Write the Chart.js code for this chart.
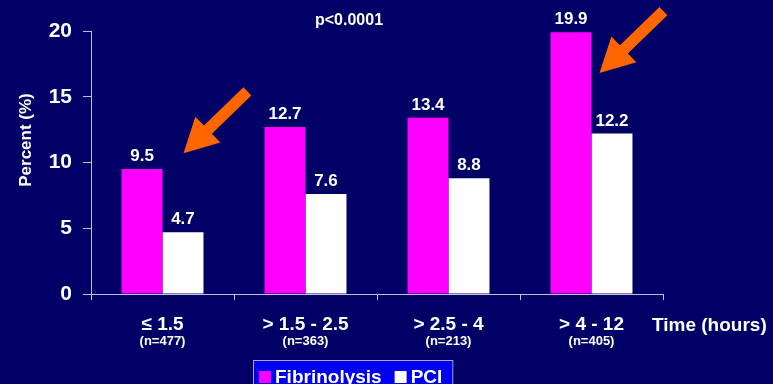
<!DOCTYPE html>
<html>
<head>
<meta charset="utf-8">
<title>Mortality by time to treatment</title>
<script src="https://cdn.jsdelivr.net/npm/chart.js@4.4.1/dist/chart.umd.min.js"></script>
<style>
  html, body { margin: 0; padding: 0; background: #000066; overflow: hidden; }
  canvas { display: block; }
</style>
</head>
<body>
<canvas id="chart" width="773" height="384"></canvas>
<script>
// Time-to-treatment windows and their patient counts
const timeWindows = ['≤ 1.5', '> 1.5 - 2.5', '> 2.5 - 4', '> 4 - 12'];
const patientCounts = ['(n=477)', '(n=363)', '(n=213)', '(n=405)'];

// Percent values per window
const fibrinolysis = [9.5, 12.7, 13.4, 19.9];
const pci = [4.7, 7.6, 8.8, 12.2];

const FONT = 'Arial, "Liberation Sans", sans-serif';
const NAVY = '#000066';
const AXIS = '#C0C0D8';
const ORANGE = '#FF6600';

// Orange pointers: which window, horizontal nudge from its centre, height in percent
const pointers = [
    { index: 0, dx: 21, value: 10.7 },
    { index: 3, dx: 8, value: 16.8 }
];

function drawArrow(ctx, tipX, tipY) {
    const ux = -0.718, uy = 0.696;   // tail -> tip
    const px = -uy, py = ux;          // perpendicular
    const len = 89, headLen = 34, headHalf = 18, shaftHalf = 5.7;
    const bx = tipX - ux * headLen, by = tipY - uy * headLen;
    const tx = tipX - ux * len, ty = tipY - uy * len;
    ctx.beginPath();
    ctx.moveTo(tipX, tipY);
    ctx.lineTo(bx + px * headHalf, by + py * headHalf);
    ctx.lineTo(bx + px * shaftHalf, by + py * shaftHalf);
    ctx.lineTo(tx + px * shaftHalf, ty + py * shaftHalf);
    ctx.lineTo(tx - px * shaftHalf, ty - py * shaftHalf);
    ctx.lineTo(bx - px * shaftHalf, by - py * shaftHalf);
    ctx.lineTo(bx - px * headHalf, by - py * headHalf);
    ctx.closePath();
    ctx.fillStyle = ORANGE;
    ctx.fill();
}

const slideDecor = {
    id: 'slideDecor',
    beforeDraw(chart) {
        const ctx = chart.ctx;
        ctx.save();
        ctx.fillStyle = NAVY;
        ctx.fillRect(0, 0, chart.width, chart.height);
        ctx.restore();
    },
    afterDatasetsDraw(chart) {
        const ctx = chart.ctx;
        const xScale = chart.scales.x;
        const yScale = chart.scales.y;
        ctx.save();

        // value above each bar
        ctx.font = 'bold 17px ' + FONT;
        ctx.fillStyle = '#FFFFFF';
        ctx.textAlign = 'center';
        ctx.textBaseline = 'alphabetic';
        chart.data.datasets.forEach((ds, di) => {
            chart.getDatasetMeta(di).data.forEach((bar, i) => {
                ctx.fillText(ds.data[i].toFixed(1), bar.x, bar.y - 8);
            });
        });

        pointers.forEach(p => {
            drawArrow(ctx, xScale.getPixelForValue(p.index) + p.dx, yScale.getPixelForValue(p.value));
        });
        ctx.restore();
    },
    afterDraw(chart) {
        const ctx = chart.ctx;
        const xScale = chart.scales.x;
        const area = chart.chartArea;
        ctx.save();
        ctx.fillStyle = '#FFFFFF';

        // patient counts under the window labels
        ctx.font = 'bold 13px ' + FONT;
        ctx.textAlign = 'center';
        ctx.textBaseline = 'alphabetic';
        patientCounts.forEach((n, i) => {
            ctx.fillText(n, xScale.getPixelForTick(i), 345);
        });

        // x axis title to the right of the axis
        ctx.font = 'bold 19px ' + FONT;
        ctx.textAlign = 'left';
        ctx.fillText('Time (hours)', area.right - 11, 331);

        // significance
        ctx.font = 'bold 16px ' + FONT;
        ctx.textAlign = 'center';
        ctx.fillText('p<0.0001', 349, 25);

        // y axis title
        ctx.save();
        ctx.translate(31, 140);
        ctx.rotate(-Math.PI / 2);
        ctx.font = 'bold 17px ' + FONT;
        ctx.fillText('Percent (%)', 0, 0);
        ctx.restore();

        // legend box at the bottom
        ctx.font = 'bold 19px ' + FONT;
        ctx.textAlign = 'left';
        const items = chart.data.datasets.map(ds => ({
            label: ds.label,
            color: ds.backgroundColor,
            width: ctx.measureText(ds.label).width
        }));
        let x = 259;
        const boxLeft = x - 6;
        let boxRight = x;
        items.forEach(it => {
            x += 16;
            boxRight = x + it.width + 10;
            x += it.width + 13;
        });
        ctx.fillStyle = '#0000F0';
        ctx.fillRect(boxLeft, 360.5, boxRight - boxLeft, 40);
        ctx.strokeStyle = '#A8A8D0';
        ctx.lineWidth = 1;
        ctx.strokeRect(boxLeft + 0.5, 360.5, boxRight - boxLeft, 40);
        x = 259;
        items.forEach(it => {
            ctx.fillStyle = it.color;
            ctx.fillRect(x, 371, 12, 12);
            x += 16;
            ctx.fillStyle = '#FFFFFF';
            ctx.fillText(it.label, x, 383);
            x += it.width + 13;
        });

        ctx.restore();
    }
};

new Chart(document.getElementById('chart'), {
    type: 'bar',
    data: {
        labels: timeWindows,
        datasets: [
            {
                label: 'Fibrinolysis',
                data: fibrinolysis,
                backgroundColor: '#FF00FF',
                borderWidth: 0
            },
            {
                label: 'PCI',
                data: pci,
                backgroundColor: '#FFFFFF',
                borderWidth: 0
            }
        ]
    },
    options: {
        responsive: false,
        animation: false,
        devicePixelRatio: 1,
        datasets: {
            bar: { barPercentage: 1, categoryPercentage: 0.573 }
        },
        layout: {
            padding: { top: 31, right: 110, bottom: 0, left: 0 }
        },
        plugins: {
            legend: { display: false },
            tooltip: { enabled: false },
            title: { display: false }
        },
        scales: {
            x: {
                afterFit(scale) { scale.height = 90; },
                grid: {
                    drawOnChartArea: false,
                    drawTicks: true,
                    tickLength: 6,
                    color: AXIS
                },
                border: { display: true, color: AXIS, width: 1 },
                ticks: {
                    color: '#FFFFFF',
                    font: { family: FONT, size: 19, weight: 'bold' },
                    padding: 13,
                    maxRotation: 0,
                    autoSkip: false
                }
            },
            y: {
                min: 0,
                max: 20,
                afterFit(scale) { scale.width = 91; },
                grid: {
                    drawOnChartArea: false,
                    drawTicks: true,
                    tickLength: 8,
                    color: AXIS
                },
                border: { display: true, color: AXIS, width: 1 },
                ticks: {
                    stepSize: 5,
                    color: '#FFFFFF',
                    font: { family: FONT, size: 21, weight: 'bold' },
                    padding: 11
                }
            }
        }
    },
    plugins: [slideDecor]
});
</script>
</body>
</html>
